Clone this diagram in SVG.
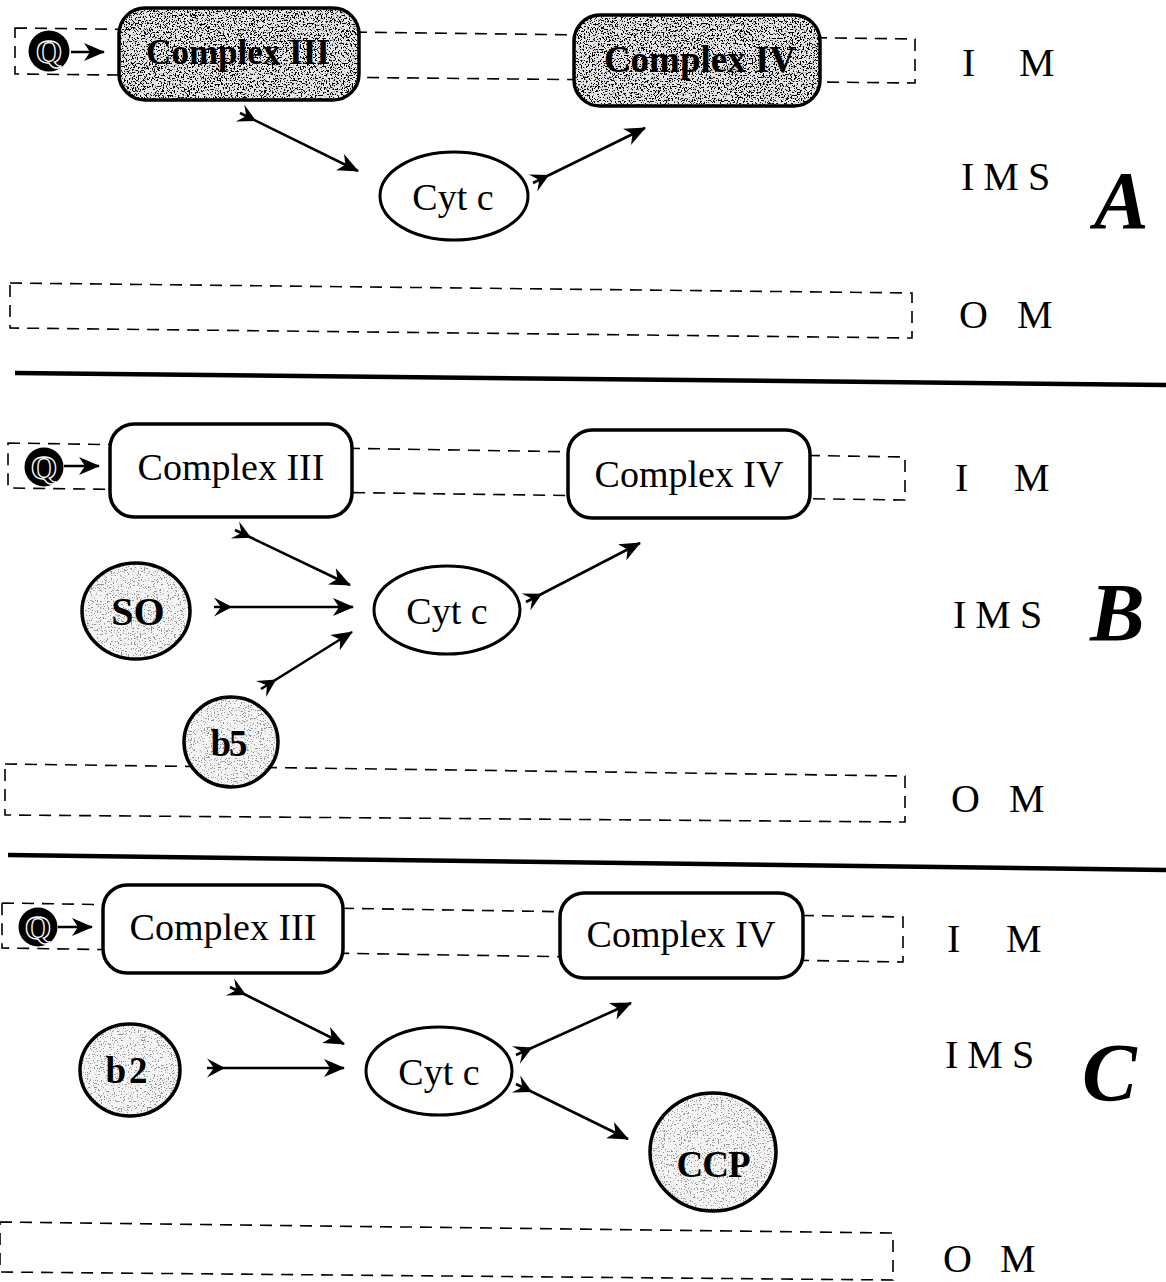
<svg xmlns="http://www.w3.org/2000/svg" width="1166" height="1282" viewBox="0 0 1166 1282">
<style>
  text { font-family: "Liberation Serif", "Times New Roman", serif; fill: #000; }
  .mem { fill: none; stroke: #000; stroke-width: 1.6; stroke-dasharray: 12 8; }
  .box { stroke: #000; stroke-width: 3.5; }
  .nodeTxt { font-size: 38px; text-anchor: middle; }
  .boldTxt { font-weight: bold; text-anchor: middle; }
  .cyt { fill: #fff; stroke: #000; stroke-width: 3; }
  .blob { stroke: #000; stroke-width: 3.5; }
  .lbl { font-size: 40px; }
  .panel { font-size: 82px; font-weight: bold; font-style: italic; }
  .conn { stroke: #000; stroke-width: 2.6; fill: none; }
  .sep { stroke: #000; stroke-width: 4.5; }
  .q { font-size: 34px; font-weight: bold; text-anchor: middle; fill: #000; stroke: #fff; stroke-width: 1.3; }
</style>
<defs>
  <marker id="head" markerUnits="userSpaceOnUse" viewBox="-22 -11 24 22" refX="0" refY="0" markerWidth="24" markerHeight="22" orient="auto">
    <path d="M-20,-9 L1,0 L-20,9 L-14,0 Z" fill="#000"/>
  </marker>
  <marker id="tail" markerUnits="userSpaceOnUse" viewBox="-2 -11 24 22" refX="0" refY="0" markerWidth="24" markerHeight="22" orient="auto">
    <path d="M0,-9.5 L18,0 L0,9.5 L7,0 Z" fill="#000"/>
  </marker>
  <filter id="texDark" x="0" y="0" width="1" height="1">
    <feTurbulence type="fractalNoise" baseFrequency="0.65" numOctaves="2" seed="7" result="n"/>
    <feColorMatrix in="n" type="matrix" values="0 0 0 0 0  0 0 0 0 0  0 0 0 0 0  20 0 0 0 -10.8" result="d"/>
    <feComposite in="d" in2="SourceAlpha" operator="in" result="dc"/>
    <feMerge><feMergeNode in="SourceGraphic"/><feMergeNode in="dc"/></feMerge>
  </filter>
  <filter id="texLight" x="0" y="0" width="1" height="1">
    <feTurbulence type="fractalNoise" baseFrequency="0.7" numOctaves="2" seed="11" result="n"/>
    <feColorMatrix in="n" type="matrix" values="0 0 0 0 0.3  0 0 0 0 0.3  0 0 0 0 0.3  20 0 0 0 -12.2" result="d"/>
    <feComposite in="d" in2="SourceAlpha" operator="in" result="dc"/>
    <feMerge><feMergeNode in="SourceGraphic"/><feMergeNode in="dc"/></feMerge>
  </filter>
</defs>
<rect width="1166" height="1282" fill="#fff"/>

<!-- membranes -->
<g id="membranes">
  <path class="mem" d="M15,28 L915,39 L915,83 L15,74 Z"/>
  <path class="mem" d="M10,283 L912,293 L912,338 L10,328 Z"/>
  <path class="mem" d="M8,443 L905,457 L905,500 L8,488 Z"/>
  <path class="mem" d="M5,764 L905,776 L905,822 L5,815 Z"/>
  <path class="mem" d="M2,903 L903,917 L903,962 L2,948 Z"/>
  <path class="mem" d="M0,1222 L893,1233 L893,1280 L0,1272 Z"/>
</g>

<g id="separators">
  <line class="sep" x1="15" y1="373" x2="1166" y2="385"/>
  <line class="sep" x1="8" y1="855" x2="1166" y2="870"/>
</g>

<!-- Panel A -->
<g id="A-Q">
  <circle cx="49" cy="51" r="20.5" fill="#000"/>
  <text class="q" x="49" y="63">Q</text>
</g>
<g id="A-complexIII">
  <rect x="119" y="8" width="240" height="92" rx="26" fill="#e6e6e6" filter="url(#texDark)"/>
  <rect class="box" x="119" y="8" width="240" height="92" rx="26" fill="none"/>
  <text class="boldTxt" x="238" y="64" font-size="35">Complex III</text>
</g>
<g id="A-complexIV">
  <rect x="574" y="15" width="246" height="91" rx="26" fill="#e6e6e6" filter="url(#texDark)"/>
  <rect class="box" x="574" y="15" width="246" height="91" rx="26" fill="none"/>
  <text class="boldTxt" x="700" y="72" font-size="37">Complex IV</text>
</g>
<g id="A-cytc">
  <ellipse class="cyt" cx="454" cy="196" rx="74" ry="44"/>
  <text class="nodeTxt" x="453" y="210" font-size="40">Cyt c</text>
</g>
<g id="A-labels">
  <text class="lbl" x="962" y="76">I</text>
  <text class="lbl" x="1019" y="76">M</text>
  <text class="lbl" x="961" y="190" letter-spacing="9">IMS</text>
  <text class="lbl" x="959" y="328">O</text>
  <text class="lbl" x="1017" y="328">M</text>
  <text class="panel" x="1094" y="228">A</text>
</g>

<!-- Panel B -->
<g id="B-Q">
  <circle cx="44" cy="467" r="19.5" fill="#000"/>
  <text class="q" x="44" y="479" font-size="33">Q</text>
</g>
<g id="B-complexIII">
  <rect class="box" x="110" y="424" width="242" height="93" rx="24" fill="#fff"/>
  <text class="nodeTxt" x="231" y="480">Complex III</text>
</g>
<g id="B-complexIV">
  <rect class="box" x="568" y="430" width="242" height="88" rx="24" fill="#fff"/>
  <text class="nodeTxt" x="689" y="487">Complex IV</text>
</g>
<g id="B-cytc">
  <ellipse class="cyt" cx="447" cy="610" rx="73" ry="44"/>
  <text class="nodeTxt" x="447" y="624" font-size="40">Cyt c</text>
</g>
<g id="B-SO">
  <ellipse cx="136" cy="611" rx="54" ry="48" fill="#f4f4f4" filter="url(#texLight)"/>
  <ellipse class="blob" cx="136" cy="611" rx="54" ry="48" fill="none"/>
  <text class="boldTxt" x="138" y="625" font-size="40">SO</text>
</g>
<g id="B-b5">
  <ellipse cx="231" cy="742" rx="47" ry="45" fill="#f4f4f4" filter="url(#texLight)"/>
  <ellipse class="blob" cx="231" cy="742" rx="47" ry="45" fill="none"/>
  <text class="boldTxt" x="228" y="756" font-size="37" letter-spacing="-2">b5</text>
</g>
<g id="B-labels">
  <text class="lbl" x="955" y="491">I</text>
  <text class="lbl" x="1014" y="491">M</text>
  <text class="lbl" x="953" y="628" letter-spacing="9">IMS</text>
  <text class="lbl" x="951" y="812">O</text>
  <text class="lbl" x="1009" y="812">M</text>
  <text class="panel" x="1090" y="640">B</text>
</g>

<!-- Panel C -->
<g id="C-Q">
  <circle cx="38" cy="927" r="19.5" fill="#000"/>
  <text class="q" x="38" y="939" font-size="33">Q</text>
</g>
<g id="C-complexIII">
  <rect class="box" x="103" y="885" width="240" height="88" rx="24" fill="#fff"/>
  <text class="nodeTxt" x="223" y="940">Complex III</text>
</g>
<g id="C-complexIV">
  <rect class="box" x="560" y="893" width="243" height="85" rx="24" fill="#fff"/>
  <text class="nodeTxt" x="681" y="947">Complex IV</text>
</g>
<g id="C-cytc">
  <ellipse class="cyt" cx="439" cy="1071" rx="73" ry="44"/>
  <text class="nodeTxt" x="439" y="1085" font-size="40">Cyt c</text>
</g>
<g id="C-b2">
  <ellipse cx="130" cy="1070" rx="50" ry="46" fill="#f4f4f4" filter="url(#texLight)"/>
  <ellipse class="blob" cx="130" cy="1070" rx="50" ry="46" fill="none"/>
  <text class="boldTxt" x="128" y="1083" font-size="37" letter-spacing="3">b2</text>
</g>
<g id="C-CCP">
  <ellipse cx="713" cy="1152" rx="63" ry="59" fill="#f4f4f4" filter="url(#texLight)"/>
  <ellipse class="blob" cx="713" cy="1152" rx="63" ry="59" fill="none"/>
  <text class="boldTxt" x="713" y="1177" font-size="37" letter-spacing="-1">CCP</text>
</g>
<g id="C-labels">
  <text class="lbl" x="947" y="952">I</text>
  <text class="lbl" x="1006" y="952">M</text>
  <text class="lbl" x="945" y="1068" letter-spacing="9">IMS</text>
  <text class="lbl" x="943" y="1272">O</text>
  <text class="lbl" x="1000" y="1272">M</text>
  <text class="panel" x="1082" y="1100">C</text>
</g>

<!-- connectors -->
<g id="connectors">
  <line class="conn" x1="71" y1="52" x2="104" y2="52" marker-end="url(#head)"/>
  <line class="conn" x1="240" y1="113" x2="358" y2="171" marker-start="url(#tail)" marker-end="url(#head)"/>
  <line class="conn" x1="533" y1="183" x2="645" y2="128" marker-start="url(#tail)" marker-end="url(#head)"/>

  <line class="conn" x1="64" y1="466" x2="99" y2="466" marker-end="url(#head)"/>
  <line class="conn" x1="235" y1="530" x2="350" y2="585" marker-start="url(#tail)" marker-end="url(#head)"/>
  <line class="conn" x1="214" y1="607" x2="353" y2="607" marker-start="url(#tail)" marker-end="url(#head)"/>
  <line class="conn" x1="261" y1="689" x2="352" y2="632" marker-start="url(#tail)" marker-end="url(#head)"/>
  <line class="conn" x1="526" y1="602" x2="640" y2="543" marker-start="url(#tail)" marker-end="url(#head)"/>

  <line class="conn" x1="58" y1="927" x2="92" y2="927" marker-end="url(#head)"/>
  <line class="conn" x1="230" y1="987" x2="344" y2="1044" marker-start="url(#tail)" marker-end="url(#head)"/>
  <line class="conn" x1="207" y1="1068" x2="344" y2="1068" marker-start="url(#tail)" marker-end="url(#head)"/>
  <line class="conn" x1="516" y1="1055" x2="631" y2="1003" marker-start="url(#tail)" marker-end="url(#head)"/>
  <line class="conn" x1="516" y1="1084" x2="628" y2="1139" marker-start="url(#tail)" marker-end="url(#head)"/>
</g>
</svg>
